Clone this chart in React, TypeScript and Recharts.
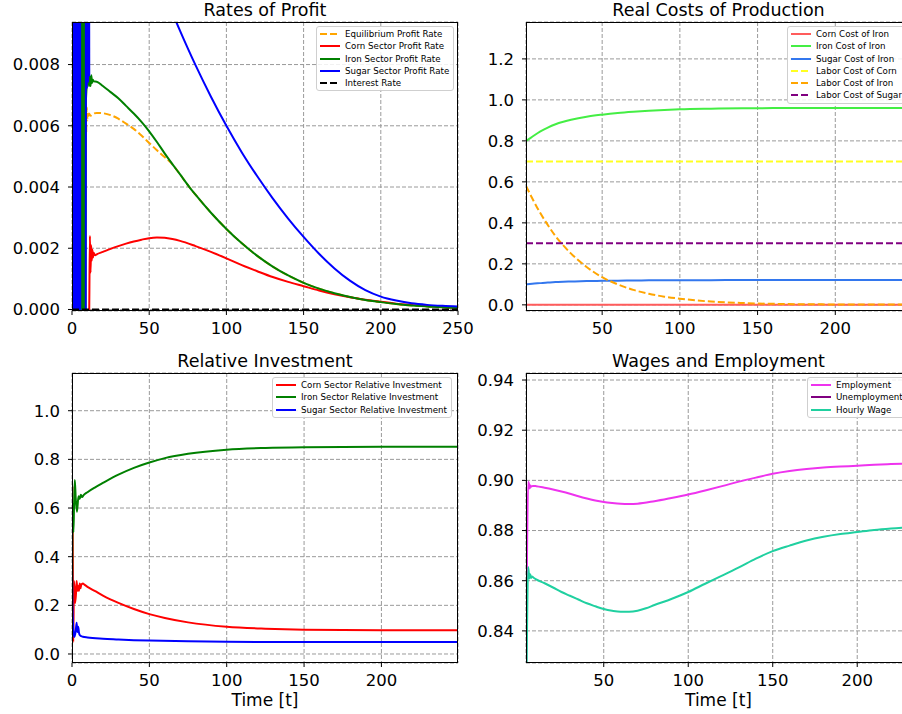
import { CartesianGrid, Line, LineChart, XAxis, YAxis } from "recharts";

const FONT = "DejaVu Sans, Verdana, sans-serif";
const DASH = "7 3";

// ---- Rates of Profit ----
const EQ_PROFIT_T = [9.2, 9.5, 10, 11, 12, 14, 16, 20, 25, 30, 35, 40, 45, 50, 55, 60, 65, 70, 76, 80, 90, 100, 110, 120, 130, 140, 150, 160, 170, 180, 190, 200, 210, 220, 230, 240, 250];
const EQ_PROFIT = [0.0058, 0.0066, 0.0062, 0.0064, 0.00633, 0.0064, 0.00642, 0.00641, 0.00635, 0.00623, 0.00607, 0.0059, 0.00568, 0.00544, 0.0052, 0.00498, 0.00474, 0.00441, 0.004, 0.00375, 0.00316, 0.00263, 0.00216, 0.00175, 0.0014, 0.00111, 0.00087, 0.00068, 0.00053, 0.00041, 0.00031, 0.00024, 0.00018, 0.00013, 0.0001, 0.00007, 0.00005];

const CORN_PROFIT_T = [0, 0.5, 1, 1.5, 2, 2.5, 3, 3.5, 4, 4.5, 5, 5.5, 6, 6.5, 7, 7.5, 8, 8.5, 11.2, 11.6, 12, 12.4, 12.8, 13.2, 13.6, 14, 15, 16, 20, 25, 30, 35, 40, 45, 50, 55, 60, 65, 70, 80, 90, 100, 110, 120, 130, 140, 150, 160, 170, 180, 190, 200, 210, 220, 230, 240, 250];
const CORN_PROFIT = [0.03, -0.01, 0.03, -0.01, 0.03, -0.01, 0.03, -0.01, 0.03, -0.01, 0.03, -0.01, 0.03, -0.01, 0.03, -0.01, 0.03, -0.01, 0.0002, 0.0024, 0.0012, 0.0021, 0.0016, 0.00195, 0.0017, 0.00185, 0.00177, 0.0018, 0.00188, 0.00198, 0.00207, 0.00215, 0.00222, 0.00228, 0.00233, 0.00235, 0.00234, 0.0023, 0.00224, 0.00207, 0.00188, 0.00167, 0.00145, 0.00125, 0.00106, 0.0009, 0.00076, 0.00062, 0.0005, 0.0004, 0.00032, 0.00025, 0.00019, 0.00015, 0.00011, 0.00008, 0.00006];

const IRON_PROFIT_T = [0, 0.5, 1, 1.5, 2, 2.5, 3, 3.5, 4, 4.5, 5, 5.5, 6, 6.5, 7, 7.5, 8, 8.5, 9, 10, 10.5, 11, 11.5, 12, 12.5, 13, 13.5, 14, 16, 20, 25, 30, 35, 40, 45, 50, 55, 60, 65, 70, 76, 80, 90, 100, 110, 120, 130, 140, 150, 160, 170, 180, 190, 200, 210, 220, 230, 240, 250];
const IRON_PROFIT = [0.03, -0.01, 0.03, -0.01, 0.03, -0.01, 0.03, -0.01, 0.03, -0.01, 0.03, -0.01, 0.03, -0.01, 0.03, -0.01, 0.03, -0.01, 0.0068, 0.0075, 0.0077, 0.0073, 0.0076, 0.0073, 0.00765, 0.0074, 0.0075, 0.00745, 0.00744, 0.0073, 0.0071, 0.0069, 0.00665, 0.0064, 0.00613, 0.00582, 0.00547, 0.0051, 0.00475, 0.00441, 0.004, 0.00375, 0.00316, 0.00263, 0.00216, 0.00175, 0.0014, 0.00111, 0.00087, 0.00068, 0.00053, 0.00041, 0.00031, 0.00024, 0.00018, 0.00013, 0.0001, 0.00007, 0.00005];

const SUGAR_PROFIT_T = [0, 0.5, 1, 1.5, 2, 2.5, 3, 3.5, 4, 4.5, 5, 5.5, 8.8, 9.2, 9.6, 10, 10.4, 10.8, 11.2, 11.6, 12, 20, 30, 40, 50, 60, 70, 80, 90, 100, 110, 120, 130, 140, 150, 160, 170, 180, 190, 200, 210, 220, 230, 240, 250];
const SUGAR_PROFIT = [0.03, -0.01, 0.03, -0.01, 0.03, -0.01, 0.03, -0.01, 0.03, -0.01, 0.03, -0.01, -0.01, 0.03, 0.0072, 0.03, 0.0074, 0.03, 0.0076, 0.03, 0.0185, 0.0165, 0.0146, 0.013, 0.0116, 0.0103, 0.0091, 0.00798, 0.00695, 0.006, 0.00513, 0.00435, 0.00363, 0.00297, 0.00237, 0.00182, 0.00134, 0.00094, 0.00063, 0.00042, 0.00029, 0.0002, 0.00015, 0.00012, 0.0001];

const INTEREST_T = [0, 250];
const INTEREST = [0, 0];

// ---- Real Costs of Production ----
const COST_T = [1, 5, 10, 15, 20, 25, 30, 40, 50, 60, 70, 80, 90, 100, 120, 140, 160, 180, 200, 225, 250];
const FLAT_COST_T = [1, 250];
const CORN_COST_IRON = [0.001, 0.001];
const IRON_COST_IRON = [0.8, 0.82, 0.845, 0.865, 0.881, 0.893, 0.903, 0.918, 0.928, 0.936, 0.942, 0.947, 0.951, 0.954, 0.957, 0.959, 0.96, 0.96, 0.961, 0.961, 0.961];
const SUGAR_COST_IRON = [0.1, 0.103, 0.106, 0.109, 0.111, 0.113, 0.114, 0.116, 0.117, 0.118, 0.119, 0.1195, 0.12, 0.12, 0.1205, 0.121, 0.121, 0.121, 0.121, 0.121, 0.121];
const LABOR_COST_CORN = [0.7, 0.7];
const LABOR_COST_IRON = [0.58, 0.52, 0.45, 0.39, 0.335, 0.29, 0.25, 0.185, 0.135, 0.1, 0.073, 0.054, 0.04, 0.03, 0.016, 0.009, 0.005, 0.003, 0.002, 0.0015, 0.001];
const LABOR_COST_SUGAR = [0.3, 0.3];

// ---- Relative Investment ----
const CORN_INV_T = [0, 0.3, 0.8, 1.3, 2, 2.5, 3, 3.5, 4, 4.5, 5, 5.5, 6, 7, 8, 10, 15, 20, 30, 40, 50, 60, 75, 100, 125, 150, 200, 249.5];
const CORN_INV = [0.45, 0.69, 0.05, 0.3, 0.21, 0.24, 0.3, 0.26, 0.28, 0.26, 0.29, 0.27, 0.285, 0.29, 0.285, 0.276, 0.258, 0.24, 0.21, 0.185, 0.164, 0.148, 0.13, 0.112, 0.104, 0.1, 0.098, 0.098];
const IRON_INV_T = [0, 0.4, 0.9, 1.3, 1.8, 2.4, 3.2, 4.2, 5, 5.7, 6.5, 7.5, 10, 15, 20, 30, 40, 50, 60, 75, 100, 125, 150, 200, 249.5];
const IRON_INV = [0.0, 0.62, 0.5, 0.6, 0.715, 0.64, 0.585, 0.648, 0.638, 0.655, 0.645, 0.653, 0.665, 0.685, 0.703, 0.737, 0.765, 0.787, 0.805, 0.823, 0.84, 0.847, 0.85, 0.852, 0.852];
const SUGAR_INV_T = [0, 0.3, 1, 1.5, 2, 2.5, 3, 3.5, 4, 4.5, 5, 6, 7, 10, 20, 30, 40, 50, 75, 100, 150, 200, 249.5];
const SUGAR_INV = [0.36, 0.19, 0.09, 0.07, 0.08, 0.1, 0.128, 0.09, 0.112, 0.088, 0.078, 0.073, 0.071, 0.068, 0.063, 0.06, 0.057, 0.055, 0.052, 0.05, 0.049, 0.049, 0.049];

// ---- Wages and Employment ----
const EMPLOY_T = [4, 4.6, 5.3, 5.8, 6.2, 6.6, 7, 8, 10, 15, 20, 25, 30, 35, 40, 45, 50, 55, 60, 65, 70, 80, 90, 100, 110, 120, 130, 140, 150, 160, 170, 180, 190, 200, 210, 220, 233];
const EMPLOY = [0.82, 0.87, 0.8995, 0.8985, 0.8968, 0.898, 0.8975, 0.8978, 0.8977, 0.8971, 0.8964, 0.8956, 0.8947, 0.8937, 0.8928, 0.892, 0.8914, 0.891, 0.8907, 0.8906, 0.8907, 0.8917, 0.893, 0.8944, 0.896, 0.8977, 0.8995, 0.9011, 0.9026, 0.9037, 0.9045, 0.9051, 0.9055, 0.9058, 0.9062, 0.9065, 0.9068];
const UNEMPLOY_T = [4, 4.4, 233];
const UNEMPLOY = [0.9, 0.1, 0.094];
const WAGE_T = [4, 4.6, 5.3, 6, 6.5, 7, 7.5, 8.5, 10, 15, 20, 25, 30, 35, 40, 45, 50, 55, 60, 65, 70, 75, 80, 90, 100, 110, 120, 130, 140, 150, 160, 170, 180, 190, 200, 210, 220, 233];
const WAGE = [0.8, 0.84, 0.8655, 0.8609, 0.8626, 0.8611, 0.8617, 0.8612, 0.8605, 0.859, 0.8573, 0.8555, 0.854, 0.8525, 0.851, 0.8498, 0.8487, 0.848, 0.8476, 0.8476, 0.848, 0.849, 0.8503, 0.8527, 0.8555, 0.8588, 0.862, 0.8653, 0.8688, 0.8718, 0.874, 0.876, 0.8775, 0.8786, 0.8794, 0.8802, 0.8808, 0.8814];

type Series = { name: string; t: number[]; v: number[]; color: string; dash?: string };

const PROFIT_SERIES: Series[] = [
  { name: "Equilibrium Profit Rate", t: EQ_PROFIT_T, v: EQ_PROFIT, color: "#ffa500", dash: DASH },
  { name: "Corn Sector Profit Rate", t: CORN_PROFIT_T, v: CORN_PROFIT, color: "#ff0000" },
  { name: "Iron Sector Profit Rate", t: IRON_PROFIT_T, v: IRON_PROFIT, color: "#008000" },
  { name: "Sugar Sector Profit Rate", t: SUGAR_PROFIT_T, v: SUGAR_PROFIT, color: "#0000ff" },
  { name: "Interest Rate", t: INTEREST_T, v: INTEREST, color: "#000000", dash: DASH },
];

const COST_SERIES: Series[] = [
  { name: "Corn Cost of Iron", t: FLAT_COST_T, v: CORN_COST_IRON, color: "#ff5c5c" },
  { name: "Iron Cost of Iron", t: COST_T, v: IRON_COST_IRON, color: "#44ee44" },
  { name: "Sugar Cost of Iron", t: COST_T, v: SUGAR_COST_IRON, color: "#3377ee" },
  { name: "Labor Cost of Corn", t: FLAT_COST_T, v: LABOR_COST_CORN, color: "#ffff22", dash: DASH },
  { name: "Labor Cost of Iron", t: COST_T, v: LABOR_COST_IRON, color: "#ffa500", dash: DASH },
  { name: "Labor Cost of Sugar", t: FLAT_COST_T, v: LABOR_COST_SUGAR, color: "#800080", dash: DASH },
];

const INVEST_SERIES: Series[] = [
  { name: "Corn Sector Relative Investment", t: CORN_INV_T, v: CORN_INV, color: "#ff0000" },
  { name: "Iron Sector Relative Investment", t: IRON_INV_T, v: IRON_INV, color: "#008000" },
  { name: "Sugar Sector Relative Investment", t: SUGAR_INV_T, v: SUGAR_INV, color: "#0000ff" },
];

const WAGE_SERIES: Series[] = [
  { name: "Employment", t: EMPLOY_T, v: EMPLOY, color: "#ee33ee" },
  { name: "Unemployment", t: UNEMPLOY_T, v: UNEMPLOY, color: "#800080" },
  { name: "Hourly Wage", t: WAGE_T, v: WAGE, color: "#20d0a0" },
];

const pts = (t: number[], v: number[]) => t.map((x, i) => ({ t: x, v: v[i] }));

type PanelProps = {
  left: number;
  top: number;
  width: number;
  height: number;
  yAxisWidth: number;
  xDomain: [number, number];
  yDomain: [number, number];
  xTicks: number[];
  yTicks: number[];
  yDigits: number;
  series: Series[];
};

function Panel({ left, top, width, height, yAxisWidth, xDomain, yDomain, xTicks, yTicks, yDigits, series }: PanelProps) {
  const pad = 2;
  const rightPad = 24;
  const tickStyle = { fill: "#000", fontSize: 16.5, fontFamily: FONT };
  return (
    <>
      <div style={{ position: "absolute", left: left - yAxisWidth, top: top - pad }}>
        <LineChart
          width={yAxisWidth + width + rightPad}
          height={height + pad + 40}
          margin={{ top: pad, right: rightPad, bottom: 0, left: 0 }}
        >
          <CartesianGrid stroke="#9a9a9a" strokeDasharray="4 2" />
          <XAxis
            type="number"
            dataKey="t"
            domain={xDomain}
            allowDataOverflow
            ticks={xTicks}
            interval={0}
            tickSize={4}
            tickMargin={7}
            height={40}
            axisLine={false}
            tickLine={{ stroke: "#000" }}
            tick={tickStyle}
          />
          <YAxis
            type="number"
            domain={yDomain}
            allowDataOverflow
            ticks={yTicks}
            interval={0}
            width={yAxisWidth}
            tickSize={4}
            tickMargin={8}
            axisLine={false}
            tickLine={{ stroke: "#000" }}
            tick={tickStyle}
            tickFormatter={(v: number) => v.toFixed(yDigits)}
          />
          {series.map((s) => (
            <Line
              key={s.name}
              name={s.name}
              data={pts(s.t, s.v)}
              dataKey="v"
              type="monotone"
              stroke={s.color}
              strokeWidth={2}
              strokeDasharray={s.dash}
              dot={false}
              activeDot={false}
              isAnimationActive={false}
            />
          ))}
        </LineChart>
      </div>
      <div
        style={{
          position: "absolute",
          left,
          top,
          width,
          height,
          border: "1px solid #000",
          boxSizing: "border-box",
          pointerEvents: "none",
        }}
      />
    </>
  );
}

function LegendBox({ x, y, items }: { x: number; y: number; items: Series[] }) {
  return (
    <div
      style={{
        position: "absolute",
        left: x,
        top: y,
        background: "rgba(255,255,255,0.85)",
        border: "1px solid #cfcfcf",
        borderRadius: 3,
        padding: "1px 4px 1px 3px",
        fontFamily: FONT,
        fontSize: 8.7,
        color: "#000",
        whiteSpace: "nowrap",
      }}
    >
      {items.map((s) => (
        <div key={s.name} style={{ display: "flex", alignItems: "center", height: 12.25 }}>
          <svg width={20} height={4} style={{ marginRight: 5, flex: "none" }}>
            <line x1={0} y1={2} x2={20} y2={2} stroke={s.color} strokeWidth={2} strokeDasharray={s.dash} />
          </svg>
          <span>{s.name}</span>
        </div>
      ))}
    </div>
  );
}

export default function App() {
  return (
    <div
      style={{
        position: "absolute",
        left: 0,
        top: 0,
        width: 902,
        height: 714,
        overflow: "hidden",
        background: "#fff",
        fontFamily: FONT,
      }}
    >
      <Panel
        left={72}
        top={22}
        width={386}
        height={289}
        yAxisWidth={72}
        xDomain={[0, 250]}
        yDomain={[-0.00005, 0.00939]}
        xTicks={[0, 50, 100, 150, 200, 250]}
        yTicks={[0, 0.002, 0.004, 0.006, 0.008]}
        yDigits={3}
        series={PROFIT_SERIES}
      />
      <Panel
        left={526}
        top={22}
        width={387}
        height={289}
        yAxisWidth={66}
        xDomain={[1, 250]}
        yDomain={[-0.03, 1.38]}
        xTicks={[50, 100, 150, 200]}
        yTicks={[0, 0.2, 0.4, 0.6, 0.8, 1.0, 1.2]}
        yDigits={1}
        series={COST_SERIES}
      />
      <Panel
        left={72}
        top={373}
        width={386}
        height={290}
        yAxisWidth={72}
        xDomain={[0, 249.5]}
        yDomain={[-0.037, 1.155]}
        xTicks={[0, 50, 100, 150, 200]}
        yTicks={[0, 0.2, 0.4, 0.6, 0.8, 1.0]}
        yDigits={1}
        series={INVEST_SERIES}
      />
      <Panel
        left={526}
        top={373}
        width={387}
        height={290}
        yAxisWidth={66}
        xDomain={[4, 233]}
        yDomain={[0.8272, 0.9428]}
        xTicks={[50, 100, 150, 200]}
        yTicks={[0.84, 0.86, 0.88, 0.9, 0.92, 0.94]}
        yDigits={2}
        series={WAGE_SERIES}
      />

      <LegendBox x={316} y={26} items={PROFIT_SERIES} />
      <LegendBox x={787} y={26} items={COST_SERIES} />
      <LegendBox x={272} y={377} items={INVEST_SERIES} />
      <LegendBox x={807} y={377} items={WAGE_SERIES} />

      <svg
        width={902}
        height={714}
        style={{ position: "absolute", left: 0, top: 0, pointerEvents: "none" }}
        fontFamily={FONT}
        fill="#000"
      >
        <text x={265} y={16} textAnchor="middle" fontSize={17.5}>Rates of Profit</text>
        <text x={718.5} y={16} textAnchor="middle" fontSize={17.5}>Real Costs of Production</text>
        <text x={265} y={367} textAnchor="middle" fontSize={17.5}>Relative Investment</text>
        <text x={718.5} y={367} textAnchor="middle" fontSize={17.5}>Wages and Employment</text>
        <text x={265} y={706} textAnchor="middle" fontSize={17}>Time [t]</text>
        <text x={718.5} y={706} textAnchor="middle" fontSize={17}>Time [t]</text>
      </svg>
    </div>
  );
}
